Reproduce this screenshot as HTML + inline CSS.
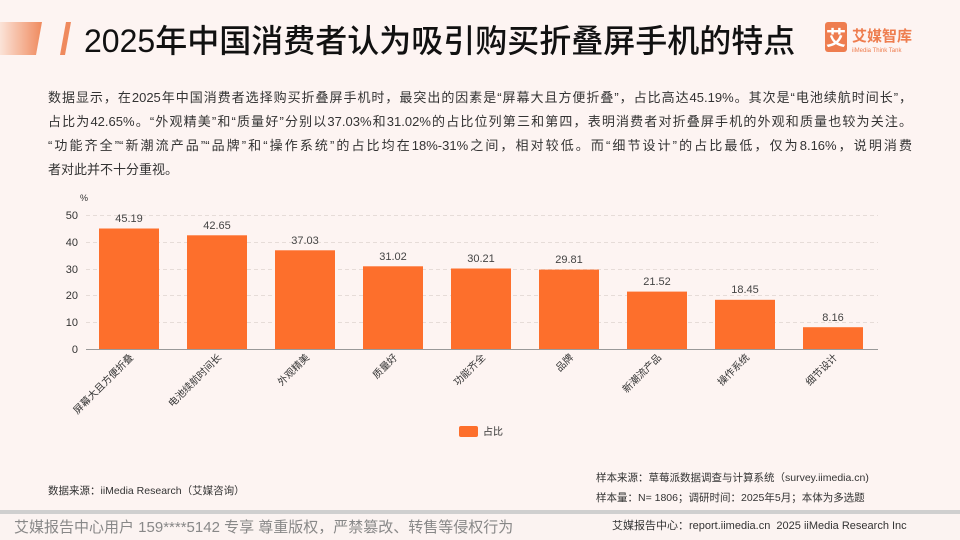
<!DOCTYPE html>
<html><head><meta charset="utf-8"><style>
body{margin:0;width:960px;height:540px;overflow:hidden;background:#fdf4f2;font-family:"Liberation Sans","Noto Sans CJK SC",sans-serif;position:relative;color:#222}
.t{position:absolute;white-space:nowrap}
.p{position:absolute;left:48px;width:864px;font-size:13px;color:#333;text-align:justify;text-align-last:justify;white-space:nowrap}
</style></head><body>
<svg width="960" height="540" style="position:absolute;left:0;top:0">
<defs><linearGradient id="g" x1="0" x2="1"><stop offset="0" stop-color="#fbe3d8"/><stop offset="1" stop-color="#ef8a5e"/></linearGradient></defs>
<polygon points="0,22 42,22 36,55 0,55" fill="url(#g)"/>
<polygon points="66,22 71,22 65,55 60,55" fill="#ef8a5e"/>
<rect x="825" y="22" width="22" height="30" rx="3" fill="#ee7d4f"/>
<text x="836" y="45" font-size="20" fill="#fff" text-anchor="middle" font-family="Noto Sans CJK SC" font-weight="bold">艾</text>
<text x="852" y="41" font-size="15" fill="#ee7d4f" font-family="Noto Sans CJK SC" font-weight="bold">艾媒智库</text>
<text x="852" y="52" font-size="6" fill="#ee7d4f" font-family="Liberation Sans">iiMedia Think Tank</text>
<rect x="0" y="510" width="960" height="4" fill="#cfcfcf"/>
<rect x="0" y="514" width="960" height="26" fill="#fbf3f1"/>
<g font-family="Liberation Sans" font-size="11" fill="#333">
<text x="80" y="201" font-size="9">%</text>
<g stroke="#e6dcd8" stroke-dasharray="4,3"><line x1="86" x2="878" y1="215.5" y2="215.5"/><line x1="86" x2="878" y1="242.5" y2="242.5"/><line x1="86" x2="878" y1="269.5" y2="269.5"/><line x1="86" x2="878" y1="295.5" y2="295.5"/><line x1="86" x2="878" y1="322.5" y2="322.5"/></g>
<text x="78" y="219" text-anchor="end">50</text><text x="78" y="246" text-anchor="end">40</text><text x="78" y="273" text-anchor="end">30</text><text x="78" y="299" text-anchor="end">20</text><text x="78" y="326" text-anchor="end">10</text><text x="78" y="353" text-anchor="end">0</text>
<g fill="#fd6f2c">
<rect x="99" y="228.5" width="60" height="120.5"/><rect x="187" y="235.3" width="60" height="113.7"/><rect x="275" y="250.3" width="60" height="98.7"/><rect x="363" y="266.3" width="60" height="82.7"/><rect x="451" y="268.5" width="60" height="80.5"/><rect x="539" y="269.6" width="60" height="79.4"/><rect x="627" y="291.6" width="60" height="57.4"/><rect x="715" y="299.8" width="60" height="49.2"/><rect x="803" y="327.2" width="60" height="21.8"/>
</g>
<line x1="86" x2="878" y1="349.5" y2="349.5" stroke="#999"/>
<g text-anchor="middle" fill="#444">
<text x="129" y="222">45.19</text><text x="217" y="229">42.65</text><text x="305" y="244">37.03</text><text x="393" y="260">31.02</text><text x="481" y="262">30.21</text><text x="569" y="263">29.81</text><text x="657" y="285">21.52</text><text x="745" y="293">18.45</text><text x="833" y="321">8.16</text>
</g>
<g text-anchor="end" font-size="10" font-family="Noto Sans CJK SC" fill="#333">
<text transform="translate(134,358) rotate(-45)">屏幕大且方便折叠</text>
<text transform="translate(222,358) rotate(-45)">电池续航时间长</text>
<text transform="translate(310,358) rotate(-45)">外观精美</text>
<text transform="translate(398,358) rotate(-45)">质量好</text>
<text transform="translate(486,358) rotate(-45)">功能齐全</text>
<text transform="translate(574,358) rotate(-45)">品牌</text>
<text transform="translate(662,358) rotate(-45)">新潮流产品</text>
<text transform="translate(750,358) rotate(-45)">操作系统</text>
<text transform="translate(838,358) rotate(-45)">细节设计</text>
</g>
<rect x="459" y="426" width="19" height="11" rx="2" fill="#fd6f2c"/>
<text x="483" y="435" font-size="10" font-family="Noto Sans CJK SC">占比</text>
</g>
</svg>
<div class="t" style="left:84px;top:16px;font-size:32px;font-weight:500;color:#111;font-family:'Liberation Sans','Noto Sans CJK SC',sans-serif">2025年中国消费者认为吸引购买折叠屏手机的特点</div>
<div class="p" style="top:87px">数据显示，在2025年中国消费者选择购买折叠屏手机时，最突出的因素是“屏幕大且方便折叠”，占比高达45.19%。其次是“电池续航时间长”，</div>
<div class="p" style="top:111px">占比为42.65%。“外观精美”和“质量好”分别以37.03%和31.02%的占比位列第三和第四，表明消费者对折叠屏手机的外观和质量也较为关注。</div>
<div class="p" style="top:135px">“功能齐全”“新潮流产品”“品牌”和“操作系统”的占比均在18%-31%之间，相对较低。而“细节设计”的占比最低，仅为8.16%，说明消费</div>
<div class="p" style="top:159px;text-align-last:left">者对此并不十分重视。</div>
<div class="t" style="left:48px;top:483px;font-size:10.5px;color:#333">数据来源：iiMedia Research（艾媒咨询）</div>
<div class="t" style="left:596px;top:470px;font-size:10.5px;color:#333">样本来源：草莓派数据调查与计算系统（survey.iimedia.cn)</div>
<div class="t" style="left:596px;top:490px;font-size:10.5px;color:#333">样本量：N= 1806；调研时间：2025年5月；本体为多选题</div>
<div class="t" style="left:14px;top:516px;font-size:15px;color:#888">艾媒报告中心用户 159****5142 专享 尊重版权，严禁篡改、转售等侵权行为</div>
<div class="t" style="left:612px;top:517px;font-size:11px;color:#333">艾媒报告中心：report.iimedia.cn&nbsp; 2025 iiMedia Research Inc</div>
</body></html>
